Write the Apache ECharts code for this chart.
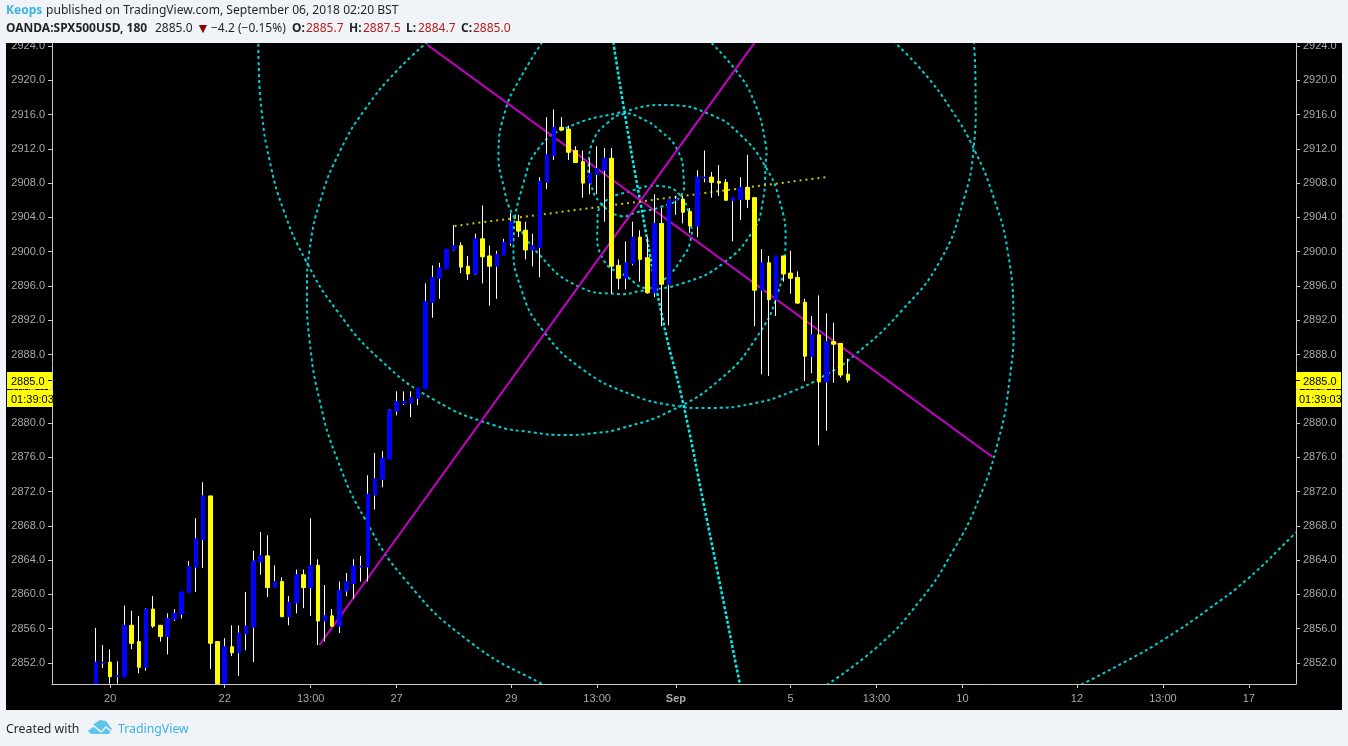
<!DOCTYPE html>
<html>
<head>
<meta charset="utf-8">
<style>
  html, body { margin: 0; padding: 0; background: #f0f3f7; }
  #chart { width: 1348px; height: 746px; }
</style>
<script src="https://cdn.jsdelivr.net/npm/echarts@6/dist/echarts.min.js"></script>
</head>
<body>
<div id="chart"></div>
<script>
// OHLC, 3h bars (bars cut by the bottom edge stop at the axis)
const opens = [2849.6,2852.0,2852.1,2850.4,2850.4,2856.4,2854.5,2851.5,2858.3,2856.4,2855.1,2857.1,2857.7,2860.2,2863.2,2866.4,2871.5,2854.5,2849.6,2853.9,2853.2,2855.4,2856.2,2863.8,2864.5,2860.8,2861.5,2857.4,2859.0,2862.3,2860.8,2863.4,2856.9,2857.5,2856.3,2860.4,2861.3,2863.2,2863.2,2871.6,2873.4,2875.8,2881.4,2882.3,2882.3,2882.9,2884.0,2894.1,2896.9,2898.0,2900.2,2900.7,2898.3,2897.4,2901.5,2899.5,2898.3,2899.6,2901.0,2903.5,2902.5,2900.2,2900.5,2908.1,2911.2,2914.5,2914.3,2911.8,2910.5,2908.0,2909.0,2909.5,2910.9,2898.4,2896.9,2898.6,2901.7,2899.3,2895.2,2903.3,2896.2,2906.0,2906.1,2904.7,2903.0,2908.6,2908.7,2908.2,2908.1,2906.0,2906.1,2907.5,2906.3,2895.5,2898.7,2894.4,2899.5,2897.5,2897.0,2894.1,2887.8,2890.3,2884.8,2889.5,2889.3,2885.7]
const closes = [2852.1,2852.1,2850.4,2850.5,2856.4,2854.3,2851.5,2858.3,2856.3,2855.1,2857.2,2857.8,2860.3,2863.3,2866.5,2871.5,2854.3,2849.6,2853.9,2853.2,2855.5,2856.3,2863.9,2864.5,2860.8,2861.5,2857.4,2859.1,2862.3,2860.8,2863.4,2856.9,2857.5,2856.3,2860.5,2861.5,2863.3,2863.3,2871.7,2873.5,2875.9,2881.5,2882.5,2882.5,2883.0,2884.1,2894.2,2897.0,2898.1,2900.3,2900.7,2898.2,2897.4,2901.5,2899.4,2898.3,2899.7,2901.1,2903.5,2902.4,2900.2,2900.7,2908.2,2911.3,2914.5,2914.2,2911.6,2910.4,2908.0,2909.1,2909.7,2910.9,2898.3,2896.9,2898.7,2901.7,2899.1,2895.2,2903.3,2896.2,2906.1,2906.1,2904.6,2903.0,2908.7,2908.7,2908.1,2908.0,2906.0,2906.3,2907.5,2906.1,2895.5,2898.7,2894.4,2899.5,2897.4,2896.9,2894.0,2887.8,2890.3,2884.8,2889.5,2889.2,2885.6,2885.0]
const lows = [2849.6,2851.4,2849.6,2849.6,2850.4,2853.6,2850.8,2851.1,2856.1,2854.5,2853.0,2856.9,2857.2,2860.2,2860.3,2863.1,2851.3,2849.6,2849.6,2852.8,2850.5,2853.5,2852.1,2862.3,2859.7,2860.8,2857.4,2856.4,2857.8,2858.4,2857.5,2854.1,2854.5,2856.2,2855.5,2859.8,2859.5,2861.5,2861.5,2869.9,2872.5,2875.8,2880.9,2882.1,2880.7,2882.1,2884.0,2892.3,2894.5,2898.0,2900.1,2897.5,2896.7,2897.3,2896.3,2893.7,2894.5,2899.6,2900.7,2901.7,2899.1,2898.3,2897.0,2907.3,2910.7,2914.1,2910.7,2910.4,2906.3,2906.7,2906.7,2903.5,2895.1,2895.6,2895.6,2898.4,2896.5,2895.1,2894.7,2891.3,2891.4,2904.3,2903.3,2902.2,2901.7,2908.1,2906.3,2906.5,2906.0,2901.2,2903.7,2905.1,2891.3,2885.7,2885.5,2892.5,2896.5,2895.1,2893.9,2884.9,2885.8,2877.4,2879.1,2884.7,2885.3,2884.7]
const highs = [2856.1,2854.1,2853.6,2852.2,2858.7,2858.1,2857.5,2858.4,2859.8,2856.4,2857.8,2858.3,2860.3,2863.9,2868.9,2873.1,2871.5,2854.5,2854.9,2856.4,2856.4,2860.3,2865.1,2867.3,2866.9,2863.4,2862.0,2859.8,2862.9,2862.9,2868.9,2864.1,2861.1,2858.3,2861.5,2862.5,2864.1,2864.5,2873.9,2876.5,2876.7,2881.6,2883.7,2883.7,2883.7,2884.1,2896.3,2898.4,2898.7,2900.3,2903.1,2901.1,2899.5,2902.1,2905.4,2900.7,2900.1,2901.5,2904.5,2904.3,2903.5,2902.1,2908.7,2915.7,2916.6,2915.7,2914.7,2912.3,2911.8,2910.8,2912.3,2912.1,2912.1,2899.1,2901.2,2903.5,2902.5,2901.7,2906.7,2905.1,2906.1,2906.5,2906.5,2905.1,2909.5,2911.8,2909.3,2910.1,2908.5,2906.3,2908.7,2911.3,2906.3,2900.3,2899.5,2899.5,2899.5,2900.1,2897.7,2894.5,2892.5,2894.9,2892.8,2891.7,2889.3,2887.5]

const priceTicks = [2852,2856,2860,2864,2868,2872,2876,2880,2884,2888,2892,2896,2900,2904,2908,2912,2916,2920,2924]
const timeTicks = [2,18,30,42,58,70,81,97,109,121,137,149,161]
const timeLabels = ['20','22','13:00','27','29','13:00','Sep','5','13:00','10','12','13:00','17']

// drawn objects, [bar index, price]
const trendUp = [[31.23,2854.1],[92.46,2924.93]]
const trendDown = [[46.32,2924.12],[125.21,2876.04]]
const dottedTrend = [[50.09,2903.0],[102.03,2908.71]]
const spiralLong = [[22.72,2924.93],[22.72,2922.37],[23.14,2916.53],[24.25,2910.7],[26.21,2904.86],[29.28,2899.03],[33.61,2893.19],[39.75,2887.36],[47.29,2882.69],[55.53,2879.77],[61.12,2878.9],[65.31,2878.61],[69.77,2878.84],[73.26,2879.36],[80.25,2881.41],[87.23,2885.14],[92.11,2889.81],[95.19,2895.06],[96.3,2901.01],[95.46,2906.03],[93.37,2910.11],[90.02,2913.62],[85.97,2915.95],[79.83,2917.12],[72.84,2916.18],[66.0,2914.55],[62.09,2912.33],[59.72,2908.01],[58.32,2901.01],[59.44,2895.53],[62.37,2890.86],[68.1,2886.19],[74.94,2883.27],[80.25,2882.11],[85.41,2881.76],[91.42,2882.22],[97.0,2883.62],[101.89,2885.61],[105.8,2887.82],[112.36,2892.96],[117.95,2899.03],[121.16,2906.03],[122.55,2911.86],[122.83,2919.68],[122.55,2924.93]]
const arcLeft = [[47.01,2924.94],[42.13,2921.2],[37.52,2916.53],[34.17,2911.86],[31.37,2906.03],[29.84,2900.19],[29.49,2895.53],[29.84,2889.69],[31.24,2882.69],[33.75,2875.69],[37.66,2868.69],[43.24,2861.68],[51.9,2854.68],[62.09,2849.66],[66.7,2848.26]]
const arcRight = [[110.69,2925.05],[115.29,2921.2],[119.48,2916.53],[122.69,2911.86],[125.48,2906.03],[127.3,2900.19],[128.14,2892.03],[127.58,2885.02],[126.04,2878.02],[123.25,2871.02],[119.76,2865.18],[115.15,2859.35],[108.59,2853.51],[99.79,2848.26]]
const arcMiddle = [[62.79,2925.05],[58.88,2919.68],[57.21,2916.53],[56.23,2911.86],[56.93,2907.66],[58.32,2904.16],[62.09,2899.49],[67.26,2895.99],[72.84,2895.06],[76.06,2895.41],[82.06,2896.34],[87.65,2898.68],[91.83,2902.53],[93.09,2905.68],[93.51,2910.0],[93.51,2912.68],[91.83,2917.7],[89.32,2921.2],[85.13,2925.05]]
const ringUpper = [[68.8,2910.0],[69.5,2913.03],[71.45,2915.02],[73.68,2916.07],[76.06,2915.6],[78.85,2914.08],[81.22,2911.86],[82.06,2908.83],[81.64,2906.5],[78.85,2905.21],[75.64,2904.63],[73.26,2904.16],[70.47,2905.68],[69.07,2908.01]]
const ringLower = [[70.05,2903.35],[70.89,2905.68],[74.24,2906.96],[78.85,2907.66],[81.64,2906.5],[83.04,2903.35],[83.04,2901.36],[82.06,2899.49],[79.27,2896.69],[76.75,2895.76],[74.24,2897.04],[70.89,2899.03]]
const arcSteep = [[72.15,2925.05],[73.68,2917.0],[76.06,2905.68],[79.27,2891.68],[82.06,2882.11],[84.85,2870.67],[87.23,2860.87],[89.88,2849.78],[90.3,2848.26]]
const arcCorner = [[136.1,2848.85],[144.06,2852.3],[149.36,2854.87],[155.23,2858.21],[160.81,2861.8],[167.24,2866.94],[169.61,2868.8]]

const tickFont = 'Liberation Sans, Arial, sans-serif'
const headFont = '"Noto Sans", sans-serif'
const axisGray = '#c8c8c8'
const labelGray = '#a8a8a8'

const chart = echarts.init(document.getElementById('chart'))

const wickData = opens.map((o, i) => [i, o, closes[i], lows[i], highs[i]])
const bodyData = opens.map((o, i) => [i, o, closes[i], Math.min(o, closes[i]), Math.max(o, closes[i])])

// straight drawn line
const overlay = (data, color, dash) => ({
  type: 'line',
  data,
  z: 1,
  symbol: 'none',
  silent: true,
  lineStyle: { color, width: 2, type: dash }
})

// traced curve: custom series so the spline is not flattened at its turning points
const curve = (points, color, width, dash, closed) => ({
  type: 'custom',
  coordinateSystem: 'cartesian2d',
  data: [points[0]],
  z: 1,
  clip: true,
  silent: true,
  renderItem: (params, api) => ({
    type: closed ? 'polygon' : 'polyline',
    shape: { points: points.map(p => api.coord(p)), smooth: 0.5, smoothConstraint: false },
    style: { stroke: color, lineWidth: width, lineDash: dash, fill: null }
  })
})

const yAxisCommon = {
  type: 'value',
  min: 2849.55,
  max: 2924.35,
  scale: true,
  splitLine: { show: false },
  axisLine: { show: true, onZero: false, lineStyle: { color: axisGray, width: 1 } },
  axisTick: { show: true, length: 4, customValues: priceTicks, lineStyle: { color: axisGray } },
  axisLabel: {
    customValues: priceTicks,
    margin: 7,
    padding: [2, 0, 0, 0],
    color: labelGray,
    fontSize: 11,
    fontFamily: tickFont,
    formatter: v => v.toFixed(1)
  }
}

// small text helper for the header and footer
const label = (x, y, text, fill, weight, size) => ({
  type: 'text',
  x,
  y,
  z: 101,
  style: { text, fill, fontFamily: headFont, fontSize: size || 12, fontWeight: weight || 'normal', textVerticalAlign: 'middle' }
})

const tag = (x, y, w, h, text, textX) => ({
  type: 'group',
  z: 50,
  children: [
    { type: 'rect', z: 50, shape: { x, y, width: w, height: h }, style: { fill: '#ffff00' } },
    {
      type: 'text',
      z: 51,
      x: textX,
      y: y + h / 2 + 1,
      style: { text, fill: '#000', fontFamily: tickFont, fontSize: 11, textVerticalAlign: 'middle' }
    }
  ]
})

const red = '#b71c1c'
const ink = '#1f2226'
const cyan = '#00d0d0'

chart.setOption({
  animation: false,
  backgroundColor: '#f0f3f7',
  grid: { left: 52, right: 52, top: 43, bottom: 62, show: false },
  xAxis: {
    type: 'value',
    min: -6.116,
    max: 167.58,
    splitLine: { show: false },
    axisLine: { show: true, onZero: false, lineStyle: { color: axisGray } },
    axisTick: { show: true, length: 4, customValues: timeTicks, lineStyle: { color: axisGray } },
    axisLabel: {
      customValues: timeTicks,
      margin: 9,
      color: labelGray,
      fontSize: 11,
      fontFamily: tickFont,
      formatter: v => {
        const text = timeLabels[timeTicks.indexOf(v)]
        return text === 'Sep' ? '{b|Sep}' : text
      },
      rich: { b: { fontWeight: 'bold', color: labelGray, fontSize: 11, fontFamily: tickFont } }
    }
  },
  yAxis: [
    { ...yAxisCommon, position: 'left' },
    { ...yAxisCommon, position: 'right' }
  ],
  series: [
    curve(spiralLong, cyan, 2, [3, 3]),
    curve(arcLeft, cyan, 2, [3, 3]),
    curve(arcRight, cyan, 2, [3, 3]),
    curve(arcMiddle, cyan, 2, [3, 3]),
    curve(ringUpper, cyan, 2, [3, 3], true),
    curve(ringLower, cyan, 2, [3, 3], true),
    curve(arcCorner, cyan, 2, [3, 3]),
    curve(arcSteep, '#00f0f0', 2.5, [3, 2]),
    overlay(trendUp, '#cc00cc', 'solid'),
    overlay(trendDown, '#cc00cc', 'solid'),
    overlay(dottedTrend, '#c8c800', [2, 4]),
    {
      type: 'candlestick',
      data: wickData,
      z: 3,
      barWidth: 1,
      silent: true,
      itemStyle: { color: '#fff', color0: '#fff', borderColor: '#fff', borderColor0: '#fff', borderWidth: 1 }
    },
    {
      // 4px box + 1px border gives the solid 5px bodies of the original
      type: 'candlestick',
      data: bodyData,
      z: 4,
      barWidth: 4,
      silent: true,
      itemStyle: { color: '#0000ff', color0: '#ffff00', borderColor: '#0000ff', borderColor0: '#ffff00', borderWidth: 1 }
    }
  ],
  graphic: {
    elements: [
      // chart panel behind everything
      { type: 'rect', z: -10, shape: { x: 6, y: 43, width: 1336, height: 667 }, style: { fill: '#000' } },
      // header strip, cuts the top tick labels like the original
      { type: 'rect', z: 100, shape: { x: 0, y: 0, width: 1348, height: 43 }, style: { fill: '#f0f3f7' } },
      label(6, 11, 'Keops', '#3bb3e4', 'bold'),
      label(46, 11, 'published on TradingView.com, September 06, 2018 02:20 BST', ink, 'normal', 12.1),
      label(6, 29, 'OANDA:SPX500USD, 180', ink, 'bold'),
      label(155, 29, '2885.0', ink),
      label(196, 29, '▼', '#8b0000', 'normal', 14),
      label(211, 29, '−4.2 (−0.15%)', ink),
      label(292, 29, 'O:', ink, 'bold'),
      label(306, 29, '2885.7', red),
      label(349, 29, 'H:', ink, 'bold'),
      label(363, 29, '2887.5', red),
      label(406, 29, 'L:', ink, 'bold'),
      label(418, 29, '2884.7', red),
      label(461, 29, 'C:', ink, 'bold'),
      label(473, 29, '2885.0', red),
      // last price tags on both scales
      tag(7, 372, 45, 17, '2885.0', 11),
      tag(7, 390, 46, 17, '01:39:03', 11),
      tag(1296, 372, 45, 17, '2885.0', 1303),
      tag(1296, 390, 45, 17, '01:39:03', 1299),
      { type: 'rect', z: 52, shape: { x: 48, y: 380, width: 4, height: 1 }, style: { fill: '#000' } },
      { type: 'rect', z: 52, shape: { x: 1296, y: 380, width: 4, height: 1 }, style: { fill: '#000' } },
      // footer
      label(6, 729, 'Created with', ink, 'normal', 12.3),
      {
        type: 'polygon',
        z: 101,
        shape: { points: [[88, 731], [95, 723], [100, 720], [106, 721], [112, 729], [109, 734], [91, 734]] },
        style: { fill: '#5ec4ec' }
      },
      {
        type: 'polyline',
        z: 102,
        shape: { points: [[88, 729], [94, 726], [101, 732], [106, 727], [111, 731]] },
        style: { stroke: '#f0f3f7', lineWidth: 1.5, fill: null }
      },
      label(118, 729, 'TradingView', '#3bb3e4', 'normal', 12.3)
    ]
  }
})
</script>
</body>
</html>
